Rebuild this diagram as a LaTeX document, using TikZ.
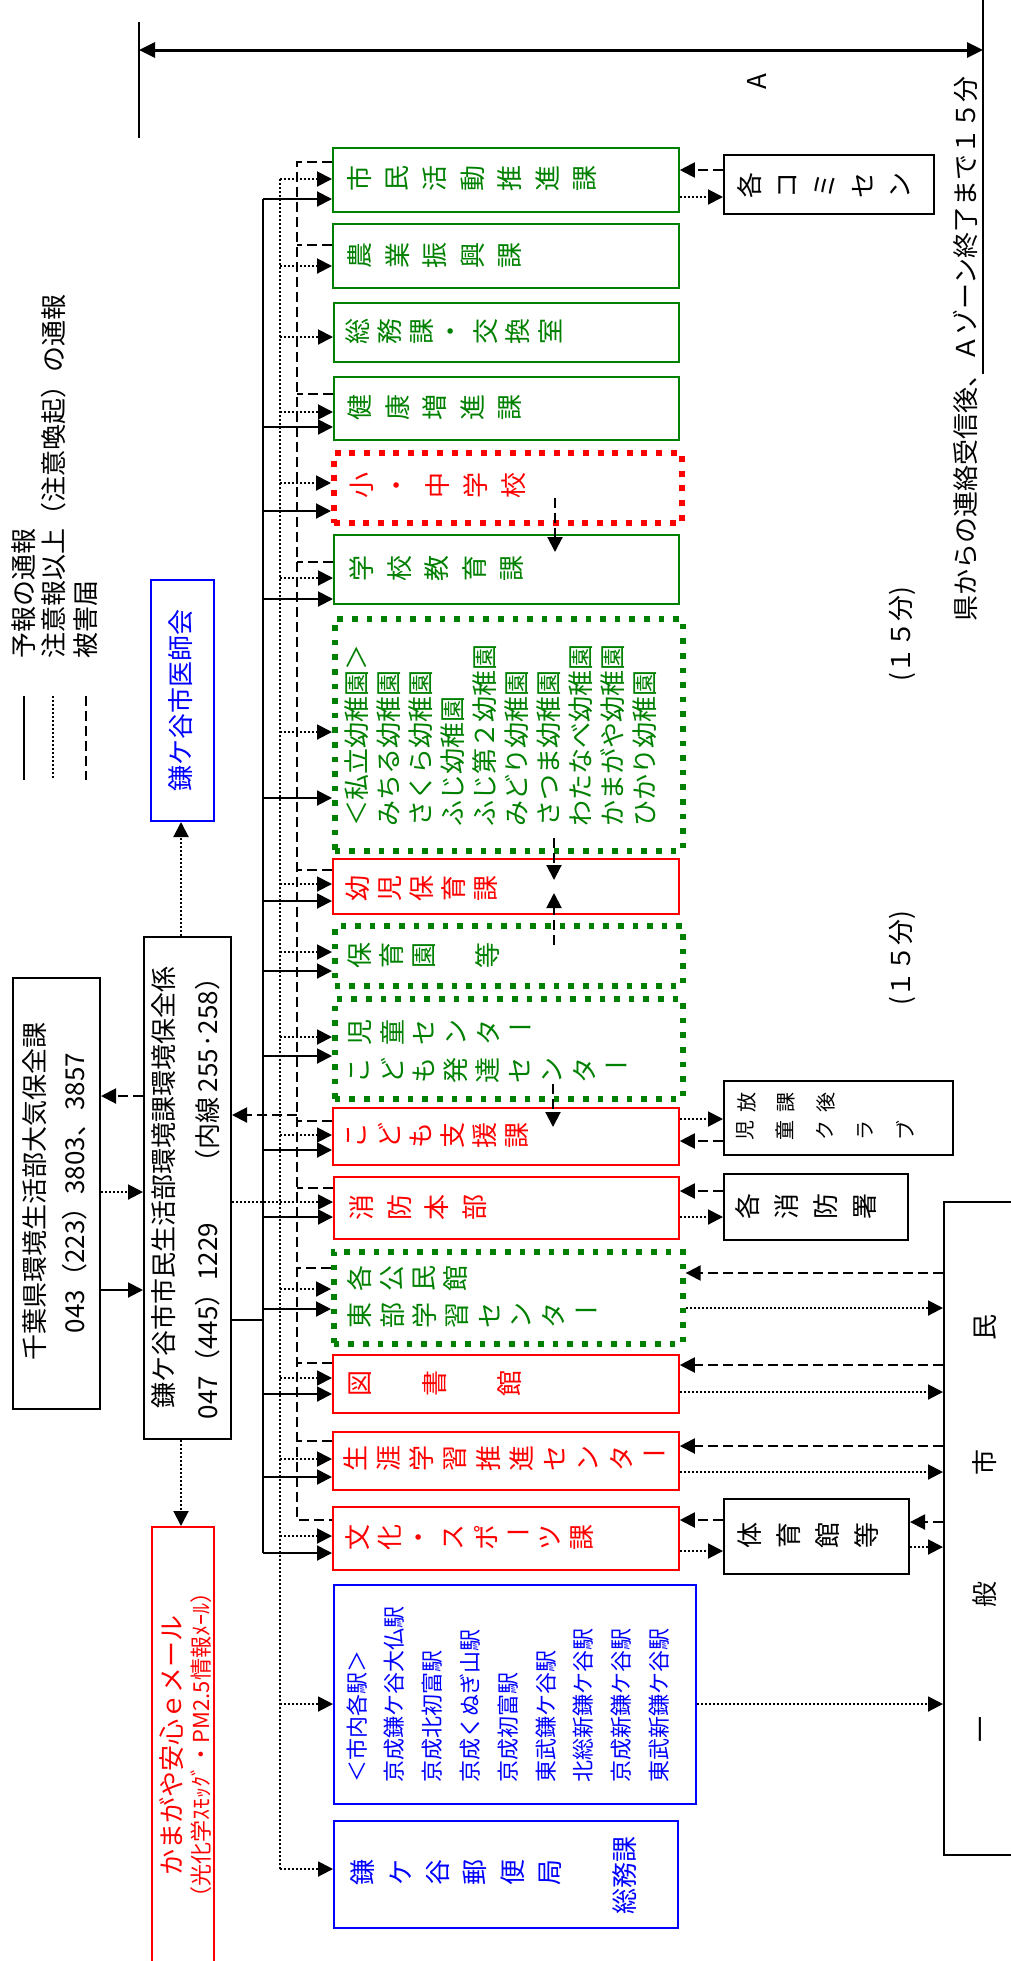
\documentclass[tikz,border=0pt]{standalone}
\usepackage{fontspec}
\setmainfont{Noto Sans CJK JP}
\usepackage{graphicx}
\usetikzlibrary{arrows.meta}
\definecolor{gr}{rgb}{0,0.5,0}
\definecolor{rd}{rgb}{1,0,0}
\definecolor{bl}{rgb}{0,0,1}
\newcommand{\choon}{\rotatebox[origin=c]{-90}{ー}}
\newcommand{\fs}[2]{\fontsize{#1}{#2}\selectfont}
\newcommand{\trow}[5][]{%
  \foreach \tkn [count=\tidx from 0] in {#5}{\node[tch,#1] at ({#2+\tidx*#4},#3) {\tkn};}}
\newcommand{\bx}[6]{%
  \node[#1,anchor=north west,inner sep=0pt,minimum width={(#4-#2)*0.5pt},minimum height={(#5-#3)*0.5pt}] (#6) at (#2,#3) {};}
\begin{document}
\begin{tikzpicture}[x=0.5pt,y=-0.5pt,
  kbox/.style={draw=black,line width=1pt},
  gbox/.style={draw=gr,line width=0.9pt},
  rbox/.style={draw=rd,line width=0.9pt},
  blbox/.style={draw=bl,line width=1pt},
  gdot/.style={draw=gr,line width=2.8pt,dash pattern=on 2.8pt off 4.5pt},
  rdot/.style={draw=rd,line width=3pt,dash pattern=on 3pt off 4.3pt},
  sol/.style={line width=1pt},
  dotl/.style={line width=1pt,dash pattern=on 1pt off 1pt},
  dshl/.style={line width=1pt,dash pattern=on 5pt off 2.5pt},
  arr/.style={-{Triangle[length=7.5pt,width=7.5pt]}},
  tch/.style={rotate=90,inner sep=0pt,font=\fs{13}{13}},
  vt/.style={rotate=90,inner sep=0pt,font=\fs{13}{16}},
]
\useasboundingbox (0,0) rectangle (1011,1961);
\clip (0,0) rectangle (1011,1961);

% ---------- boxes ----------
\bx{gbox}{332}{147}{678}{211}{smkc}
\bx{gbox}{332}{223}{678}{287}{nogyo}
\bx{gbox}{333}{302}{678}{361}{somu}
\bx{gbox}{333}{376}{678}{439}{kenko}
\bx{rdot}{331}{450}{679}{520}{shochu}
\bx{gbox}{333}{534}{678}{603}{gakko}
\bx{gdot}{332}{616}{680}{848}{shiritsu}
\bx{rbox}{332}{858}{678}{913}{yoji}
\bx{gdot}{332}{923}{680}{983}{hoiku}
\bx{gdot}{332}{996}{680}{1096}{jido}
\bx{rbox}{332}{1107}{678}{1164}{kodomo}
\bx{rbox}{333}{1176}{678}{1238}{shobo}
\bx{gdot}{331}{1249}{680}{1341}{kominkan}
\bx{rbox}{332}{1354}{678}{1412}{tosho}
\bx{rbox}{332}{1431}{678}{1489}{shogai}
\bx{rbox}{332}{1506}{678}{1569}{bunka}
\bx{blbox}{333}{1584}{695}{1803}{eki}
\bx{blbox}{333}{1820}{677}{1927}{yubin}
\bx{kbox}{723}{154}{933}{213}{komisen}
\bx{kbox}{723}{1080}{952}{1154}{jclub}
\bx{kbox}{723}{1173}{907}{1239}{shoshos}
\bx{kbox}{723}{1498}{908}{1573}{taiiku}
\bx{kbox}{943}{1201}{1040}{1854}{shimin}
\bx{kbox}{12}{977}{99}{1408}{chiba}
\bx{kbox}{143}{936}{230}{1438}{kama}
\bx{blbox}{150}{579}{213}{820}{ishikai}
\bx{rbox}{151}{1526}{213}{2000}{mail}

% ---------- legend ----------
\coordinate (l1a) at (24,696);  \coordinate (l1b) at (24,780);
\coordinate (l2a) at (53,696);  \coordinate (l2b) at (53,780);
\coordinate (l3a) at (86,696);  \coordinate (l3b) at (86,780);
\draw[sol] (l1a) -- (l1b);
\draw[dotl] (l2a) -- (l2b);
\draw[dshl] (l3a) -- (l3b);
\node[vt,anchor=west] (lg1) at (24,659) {予報の通報};
\node[vt,anchor=west] (lg2) at (54,659) {注意報以上（注意喚起）の通報};
\node[vt,anchor=west] (lg3) at (86,659) {被害届};

% ---------- dimension ----------
\coordinate (dimL) at (139,50); \coordinate (dimR) at (983,50);
\draw[line width=0.75pt] (139,22) -- (139,138);
\draw[line width=1pt] (983,0) -- (983,374);
\draw[line width=1.5pt,{Triangle[length=8pt,width=7.5pt]}-{Triangle[length=8pt,width=7.5pt]}] (dimL) -- (dimR);
\node[vt] (lblA) at (757,82) {A};
\node[vt] (note) at (965,349) {県からの連絡受信後、Ａゾーン終了まで１５分};
\node[vt] (m15a) at (902,634) {(１５分)};
\node[vt] (m15b) at (902,958) {(１５分)};

% ---------- buses ----------
\coordinate (sbT) at (263,199); \coordinate (sbB) at (263,1553);
\coordinate (dbT) at (280,179); \coordinate (dbB) at (280,1869);
\draw[sol] (sbT) -- (sbB);
\draw[dotl] (dbT) -- (dbB);
\draw[dshl] (smkc.west |- 0,162) -- (297,162) -- (297,1520) -- (bunka.west |- 0,1520);

\foreach \n/\y in {smkc/199,kenko/427,shochu/511,gakko/599,shiritsu/798,yoji/901,hoiku/971,jido/1056,kodomo/1150,shobo/1217,kominkan/1309,tosho/1394,shogai/1477,bunka/1553}
  \draw[sol,arr] (263,\y) -- (\n.west |- 0,\y);
\foreach \n/\y in {smkc/179,nogyo/266,somu/337,kenko/412,shochu/483,gakko/578,shiritsu/732,yoji/884,hoiku/952,jido/1037,kodomo/1135,kominkan/1289,tosho/1378,shogai/1459,bunka/1536,eki/1704,yubin/1869}
  \draw[dotl,arr] (280,\y) -- (\n.west |- 0,\y);
\foreach \n/\y in {nogyo/245,kenko/394,gakko/562,yoji/870,kodomo/1121,shobo/1188,kominkan/1268,tosho/1363,shogai/1441}
  \draw[dshl] (\n.west |- 0,\y) -- (297,\y);

\draw[dotl,arr] (kama.east |- 0,1202) -- (shobo.west |- 0,1202);
\draw[dshl,arr] (297,1115) -- (kama.east |- 0,1115);
\draw[sol] (kama.east |- 0,1320) -- (263,1320);

% ---------- left connectors ----------
\draw[dshl,arr] (kama.west |- 0,1096) -- (chiba.east |- 0,1096);
\draw[dotl,arr] (chiba.east |- 0,1192) -- (kama.west |- 0,1192);
\draw[sol,arr] (chiba.east |- 0,1290) -- (kama.west |- 0,1290);
\draw[dotl,arr] (kama.north -| 181,0) -- (ishikai.south -| 181,0);
\draw[dotl,arr] (kama.south -| 181,0) -- (mail.north -| 181,0);

% ---------- right connectors ----------
\draw[dshl,arr] (komisen.west |- 0,170) -- (smkc.east |- 0,170);
\draw[dotl,arr] (smkc.east |- 0,197) -- (komisen.west |- 0,197);
\draw[dotl,arr] (kodomo.east |- 0,1119) -- (jclub.west |- 0,1119);
\draw[dshl,arr] (jclub.west |- 0,1141) -- (kodomo.east |- 0,1141);
\draw[dshl,arr] (shoshos.west |- 0,1191) -- (shobo.east |- 0,1191);
\draw[dotl,arr] (shobo.east |- 0,1217) -- (shoshos.west |- 0,1217);
\draw[dshl,arr] (shimin.west |- 0,1273) -- (kominkan.east |- 0,1273);
\draw[dotl,arr] (kominkan.east |- 0,1308) -- (shimin.west |- 0,1308);
\draw[dshl,arr] (shimin.west |- 0,1365) -- (tosho.east |- 0,1365);
\draw[dotl,arr] (tosho.east |- 0,1392) -- (shimin.west |- 0,1392);
\draw[dshl,arr] (shimin.west |- 0,1446) -- (shogai.east |- 0,1446);
\draw[dotl,arr] (shogai.east |- 0,1472) -- (shimin.west |- 0,1472);
\draw[dshl,arr] (taiiku.west |- 0,1520) -- (bunka.east |- 0,1520);
\draw[dotl,arr] (bunka.east |- 0,1551) -- (taiiku.west |- 0,1551);
\draw[dshl,arr] (shimin.west |- 0,1522) -- (taiiku.east |- 0,1522);
\draw[dotl,arr] (taiiku.east |- 0,1547) -- (shimin.west |- 0,1547);
\draw[dotl,arr] (eki.east |- 0,1704) -- (shimin.west |- 0,1704);

% ---------- internal vertical arrows ----------
\coordinate (v1a) at (555,498);  \coordinate (v1b) at (555,552);
\coordinate (v2a) at (554,838);  \coordinate (v2b) at (554,880);
\coordinate (v3a) at (554,945);  \coordinate (v3b) at (554,893);
\coordinate (v4a) at (553,1084); \coordinate (v4b) at (553,1127);
\draw[dshl,arr] (v1a) -- (v1b);
\draw[dshl,arr] (v2a) -- (v2b);
\draw[dshl,arr] (v3a) -- (v3b);
\draw[dshl,arr] (v4a) -- (v4b);

% ---------- texts in main column ----------
\trow[text=gr]{360}{178}{37.5}{市,民,活,動,推,進,課}
\trow[text=gr]{360}{255}{37.5}{農,業,振,興,課}
\trow[text=gr]{358}{331}{32}{総,務,課,・,交,換,室}
\trow[text=gr]{360}{407}{37.5}{健,康,増,進,課}
\trow[text=rd]{362}{485}{38}{小,・,中,学,校}
\trow[text=gr]{362}{568}{37.5}{学,校,教,育,課}
\node[vt,text=gr,anchor=north west,align=left] (shl) at (344,827)
  {＜私立幼稚園＞\\みちる幼稚園\\さくら幼稚園\\ふじ幼稚園\\ふじ第２幼稚園\\みどり幼稚園\\さつま幼稚園\\わたなべ幼稚園\\かまがや幼稚園\\ひかり幼稚園};
\trow[text=rd]{358}{888}{32}{幼,児,保,育,課}
\trow[text=gr]{360}{955}{32}{保,育,園,,等}
\trow[text=gr]{360}{1032}{32}{児,童,セ,ン,タ,\choon}
\trow[text=gr]{360}{1070}{32}{こ,ど,も,発,達,セ,ン,タ,\choon}
\trow[text=rd]{357}{1135}{32}{こ,ど,も,支,援,課}
\trow[text=rd]{362}{1207}{37.5}{消,防,本,部}
\trow[text=gr]{360}{1278}{32}{各,公,民,館}
\trow[text=gr]{360}{1315}{32.3}{東,部,学,習,セ,ン,タ,\choon}
\trow[text=rd]{360}{1383}{75}{図,書,館}
\trow[text=rd]{355}{1458}{33.3}{生,涯,学,習,推,進,セ,ン,タ,\choon}
\trow[text=rd]{358}{1537}{32}{文,化,・,ス,ポ,\choon,ツ,課}
\node[vt,text=bl,anchor=north west,align=left,font=\fs{11}{18.9}] (ekl) at (346,1783)
  {＜市内各駅＞\\京成鎌ケ谷大仏駅\\京成北初富駅\\京成くぬぎ山駅\\京成初富駅\\東武鎌ケ谷駅\\北総新鎌ケ谷駅\\京成新鎌ケ谷駅\\東武新鎌ケ谷駅};
\trow[text=bl]{363}{1872}{37.4}{鎌,ケ,谷,郵,便,局}
\node[vt,text=bl] (ysomu) at (625,1875) {総務課};

% ---------- right texts ----------
\trow{750}{185}{37.5}{各,コ,ミ,セ,ン}
\trow[font=\fs{10}{10}]{747}{1102}{39.5}{放,課,後}
\trow[font=\fs{10}{10}]{745}{1130}{40}{児,童,ク,ラ,ブ}
\trow{748}{1206}{39}{各,消,防,署}
\trow{750}{1535}{39}{体,育,館,等}
\foreach \tkn/\yy in {一/1729,般/1594,市/1462,民/1327}
  \node[tch] at (985,\yy) {\tkn};

% ---------- left texts ----------
\node[vt] (t1) at (35,1191) {千葉県環境生活部大気保全課};
\node[vt] (t2) at (75,1193) {043（223）3803、3857};
\node[vt] (t3) at (164,1187) {鎌ケ谷市市民生活部環境課環境保全係};
\node[vt] (t4) at (208,1192) {047（445）1229\hspace{1.8em}（内線 255·258）};
\node[vt,text=bl] (t5) at (181,700) {鎌ケ谷市医師会};
\node[vt,text=rd] (t6) at (172,1745) {かまがや安心ｅメール};
\node[vt,text=rd,font=\fs{11}{11}] (t7) at (201,1745) {（光化学ｽﾓｯｸﾞ・PM2.5情報ﾒｰﾙ）};

\node[anchor=north,font=\fs{12}{12}] (pg) at (523,1956) {22};
\end{tikzpicture}
\end{document}
